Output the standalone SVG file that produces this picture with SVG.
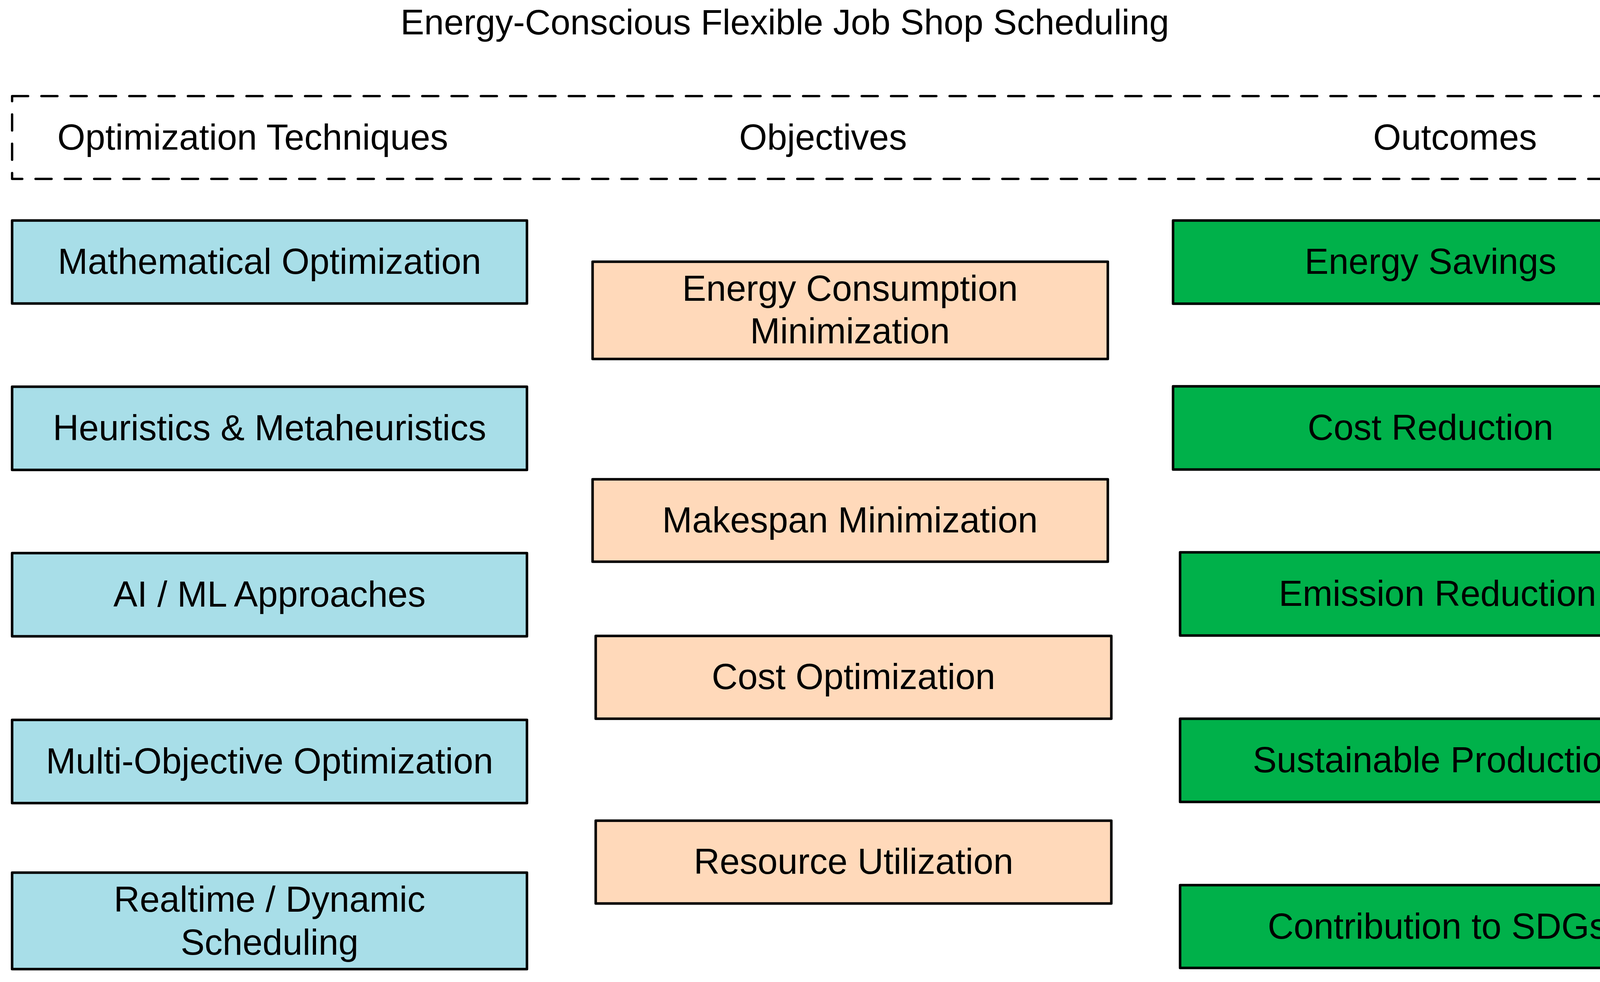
<svg xmlns="http://www.w3.org/2000/svg" width="4376" height="2514" viewBox="0 0 4376 2514">
<style>
text{font-family:"Liberation Sans",Arial,Helvetica,sans-serif;font-size:92px;fill:#000;text-anchor:middle}
.title{font-size:91px}
.n rect{stroke:#000;stroke-width:6.5;stroke-linejoin:round}
.tech rect{fill:#A8DEE8}
.obj rect{fill:#FFD9BA}
.out rect{fill:#00B14A}
.frame{fill:none;stroke:#000;stroke-width:6;stroke-dasharray:41 34;stroke-linecap:round;stroke-linejoin:round}
</style>
<rect width="4376" height="2514" fill="#fff"/>
<g id="title"><text class="title" x="2009" y="88">Energy-Conscious Flexible Job Shop Scheduling</text></g>
<g id="headers">
<path class="frame" d="M31,246 H4288 V458 H31 Z"/>
<text x="647" y="383">Optimization Techniques</text>
<text x="2107" y="383">Objectives</text>
<text x="3725" y="383">Outcomes</text>
</g>
<g id="connectors"/>
<g id="math" class="n tech"><rect x="31" y="564.5" width="1318" height="212.5"/><text x="690" y="701">Mathematical Optimization</text></g>
<g id="heur" class="n tech"><rect x="31" y="990" width="1318" height="213"/><text x="690" y="1127">Heuristics &amp; Metaheuristics</text></g>
<g id="aiml" class="n tech"><rect x="31" y="1416" width="1318" height="213"/><text x="690" y="1553">AI / ML Approaches</text></g>
<g id="multi" class="n tech"><rect x="31" y="1843" width="1318" height="213"/><text x="690" y="1980">Multi-Objective Optimization</text></g>
<g id="realtime" class="n tech"><rect x="31" y="2234" width="1318" height="247"/><text x="690" y="2334">Realtime / Dynamic</text><text x="690" y="2444">Scheduling</text></g>
<g id="energy" class="n obj"><rect x="1517" y="670" width="1319" height="249"/><text x="2176" y="770">Energy Consumption</text><text x="2176" y="879">Minimization</text></g>
<g id="makespan" class="n obj"><rect x="1517" y="1227" width="1319" height="211"/><text x="2176" y="1363">Makespan Minimization</text></g>
<g id="costopt" class="n obj"><rect x="1525" y="1628" width="1320" height="212"/><text x="2185" y="1764">Cost Optimization</text></g>
<g id="resource" class="n obj"><rect x="1525" y="2101" width="1320" height="212"/><text x="2185" y="2237">Resource Utilization</text></g>
<g id="savings" class="n out"><rect x="3003" y="564.5" width="1318" height="213"/><text x="3662" y="701">Energy Savings</text></g>
<g id="costred" class="n out"><rect x="3003" y="989" width="1318" height="213"/><text x="3662" y="1126">Cost Reduction</text></g>
<g id="emission" class="n out"><rect x="3021" y="1414" width="1319" height="213"/><text x="3680" y="1551">Emission Reduction</text></g>
<g id="sustain" class="n out"><rect x="3021" y="1840" width="1319" height="213"/><text x="3680" y="1977">Sustainable Production</text></g>
<g id="sdgs" class="n out"><rect x="3021" y="2266" width="1319" height="212"/><text x="3680" y="2403">Contribution to SDGs</text></g>
</svg>
